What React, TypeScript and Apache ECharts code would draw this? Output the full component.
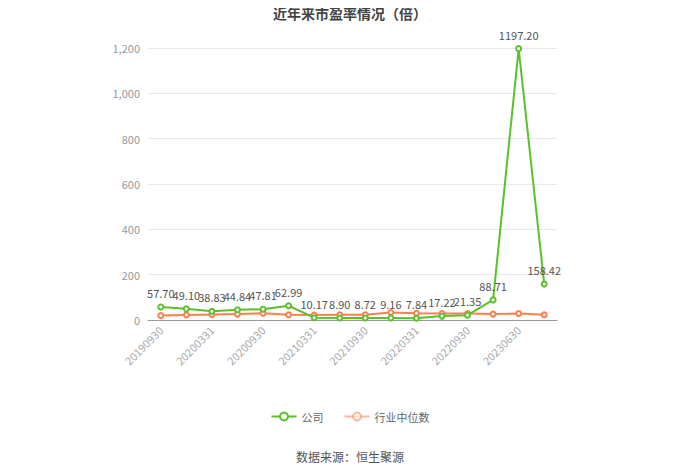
import React, { useEffect, useRef } from 'react'
import * as echarts from 'echarts'

const categories = [
  '20190930', '20191231', '20200331', '20200630', '20200930', '20201231',
  '20210331', '20210630', '20210930', '20211231', '20220331', '20220630',
  '20220930', '20221231', '20230630', '20230930',
]
const companyPE = [
  57.7, 49.1, 38.83, 44.84, 47.81, 62.99, 10.17, 8.9, 8.72, 9.16, 7.84, 17.22,
  21.35, 88.71, 1197.2, 158.42,
]
const industryPE = [20, 22, 24, 26, 30, 23, 22, 23, 23, 33, 30, 29, 29, 26, 29, 23]

const FONT = '"Microsoft YaHei", "Noto Sans CJK SC", sans-serif'

export default function App() {
  const chartRef = useRef<HTMLDivElement>(null)

  useEffect(() => {
    if (!chartRef.current) return
    const chart = echarts.init(chartRef.current, undefined, { renderer: 'svg' })

    const option: echarts.EChartsOption = {
      animation: false,
      backgroundColor: '#fff',
      textStyle: { fontFamily: FONT },
      title: {
        text: '近年来市盈率情况（倍）',
        left: 'center',
        top: 1,
        textStyle: { fontSize: 14, fontWeight: 'bold', color: '#444', fontFamily: FONT },
      },
      graphic: [
        {
          type: 'text',
          left: 'center',
          top: 450,
          style: { text: '数据来源：恒生聚源', fill: '#555', fontSize: 12, fontFamily: FONT },
        },
      ],
      legend: {
        bottom: 47,
        left: 'center',
        itemWidth: 25,
        itemHeight: 10,
        itemGap: 20,
        textStyle: { color: '#666', fontSize: 11 },
        data: [
          { name: '公司' },
          { name: '行业中位数', itemStyle: { opacity: 0.55 }, lineStyle: { opacity: 0.55 } },
        ],
      },
      grid: { left: 148, right: 143, top: 48, bottom: 154 },
      xAxis: {
        type: 'category',
        data: categories,
        boundaryGap: true,
        axisLine: { lineStyle: { color: '#999' } },
        axisTick: { alignWithLabel: true, interval: 1, lineStyle: { color: '#999' } },
        axisLabel: { rotate: 45, interval: 1, color: '#aaa', fontSize: 11, margin: 8 },
      },
      yAxis: {
        type: 'value',
        min: 0,
        max: 1200,
        interval: 200,
        axisLine: { show: false },
        axisTick: { show: false },
        axisLabel: { color: '#999', fontSize: 11, margin: 8 },
        splitLine: { lineStyle: { color: '#e6e9f2' } },
      },
      series: [
        {
          name: '公司',
          type: 'line',
          data: companyPE,
          symbol: 'emptyCircle',
          symbolSize: 5,
          color: '#5ac12b',
          lineStyle: { width: 2 },
          label: {
            show: true,
            position: 'top',
            color: '#555',
            fontSize: 11,
            formatter: (p: any) => Number(p.value).toFixed(2),
          },
          z: 3,
        },
        {
          name: '行业中位数',
          type: 'line',
          data: industryPE,
          symbol: 'emptyCircle',
          symbolSize: 5,
          color: '#f9804f',
          lineStyle: { width: 2 },
          z: 2,
        },
      ],
    }

    chart.setOption(option)
    return () => {
      chart.dispose()
    }
  }, [])

  return <div ref={chartRef} style={{ width: 700, height: 474, margin: -8 }} />
}
